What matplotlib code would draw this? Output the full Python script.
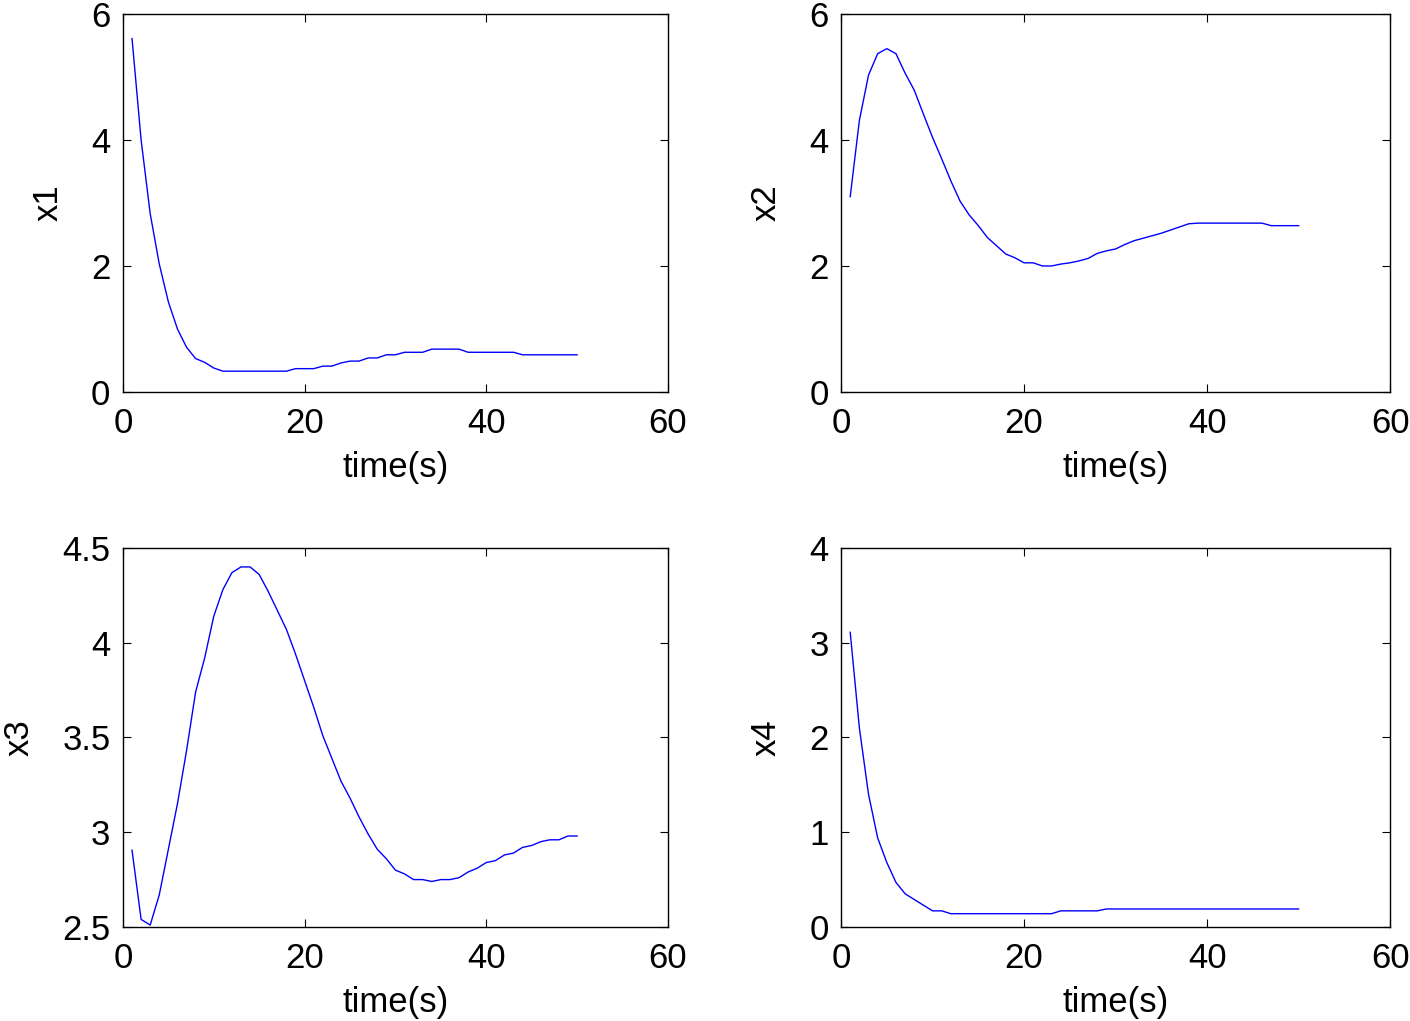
import matplotlib
matplotlib.use("Agg")
import matplotlib.pyplot as plt

t = list(range(1, 51))

x1 = [5.61, 4.0, 2.83, 2.03, 1.43, 1.0, 0.71, 0.53, 0.47, 0.38,
      0.33, 0.33, 0.33, 0.33, 0.33, 0.33, 0.33, 0.33, 0.37, 0.37,
      0.37, 0.41, 0.41, 0.46, 0.49, 0.49, 0.54, 0.54, 0.59, 0.59,
      0.63, 0.63, 0.63, 0.68, 0.68, 0.68, 0.68, 0.63, 0.63, 0.63,
      0.63, 0.63, 0.63, 0.59, 0.59, 0.59, 0.59, 0.59, 0.59, 0.59]

x2 = [3.10, 4.31, 5.03, 5.37, 5.45, 5.37, 5.06, 4.79, 4.41, 4.04,
      3.70, 3.35, 3.03, 2.81, 2.64, 2.45, 2.32, 2.19, 2.13, 2.05,
      2.05, 2.00, 2.00, 2.03, 2.05, 2.08, 2.12, 2.20, 2.24, 2.27,
      2.34, 2.40, 2.44, 2.48, 2.52, 2.57, 2.62, 2.67, 2.68, 2.68,
      2.68, 2.68, 2.68, 2.68, 2.68, 2.68, 2.64, 2.64, 2.64, 2.64]

x3 = [2.905, 2.54, 2.51, 2.67, 2.91, 3.15, 3.43, 3.74, 3.92, 4.14,
      4.28, 4.37, 4.40, 4.40, 4.36, 4.27, 4.17, 4.07, 3.94, 3.80,
      3.66, 3.51, 3.39, 3.27, 3.18, 3.08, 2.99, 2.91, 2.86, 2.80,
      2.78, 2.75, 2.75, 2.74, 2.75, 2.75, 2.76, 2.79, 2.81, 2.84,
      2.85, 2.88, 2.89, 2.92, 2.93, 2.95, 2.96, 2.96, 2.98, 2.98]

x4 = [3.11, 2.10, 1.40, 0.94, 0.68, 0.47, 0.35, 0.29, 0.23, 0.17,
      0.17, 0.14, 0.14, 0.14, 0.14, 0.14, 0.14, 0.14, 0.14, 0.14,
      0.14, 0.14, 0.14, 0.17, 0.17, 0.17, 0.17, 0.17, 0.19, 0.19,
      0.19, 0.19, 0.19, 0.19, 0.19, 0.19, 0.19, 0.19, 0.19, 0.19,
      0.19, 0.19, 0.19, 0.19, 0.19, 0.19, 0.19, 0.19, 0.19, 0.19]

series = [x1, x2, x3, x4]
ylabels = ["x1", "x2", "x3", "x4"]
ylims = [(0, 6), (0, 6), (2.5, 4.5), (0, 4)]
yticks = [[0, 2, 4, 6], [0, 2, 4, 6], [2.5, 3, 3.5, 4, 4.5], [0, 1, 2, 3, 4]]
yticklabels = [["0", "2", "4", "6"], ["0", "2", "4", "6"],
               ["2.5", "3", "3.5", "4", "4.5"], ["0", "1", "2", "3", "4"]]
xticks = [0, 20, 40, 60]

plt.rcParams['font.family'] = ['Liberation Sans', 'DejaVu Sans']

fig = plt.figure(figsize=(14.10, 10.21), dpi=100)
positions = [
    [0.0872, 0.6161, 0.3865, 0.3702],
    [0.5965, 0.6161, 0.3894, 0.3702],
    [0.0872, 0.0921, 0.3865, 0.3712],
    [0.5965, 0.0921, 0.3894, 0.3712],
]

FS = 25
for i in range(4):
    ax = fig.add_axes(positions[i])
    ax.plot(t, series[i], color=(0, 0, 1), linewidth=1.0)
    ax.set_xlim(0, 60)
    ax.set_ylim(*ylims[i])
    ax.set_xticks(xticks)
    ax.set_xticklabels([str(v) for v in xticks])
    ax.set_yticks(yticks[i])
    ax.set_yticklabels(yticklabels[i])
    ax.tick_params(direction='in', top=True, right=True, length=6, width=0.8,
                   labelsize=FS)
    ax.tick_params(axis='x', pad=11)
    ax.tick_params(axis='y', pad=9)
    for s in ax.spines.values():
        s.set_linewidth(1.0)
    ax.set_xlabel("time(s)", fontsize=FS, labelpad=8)
    ax.set_ylabel(ylabels[i], fontsize=FS, labelpad=19)

fig.savefig("out.png", dpi=100)
